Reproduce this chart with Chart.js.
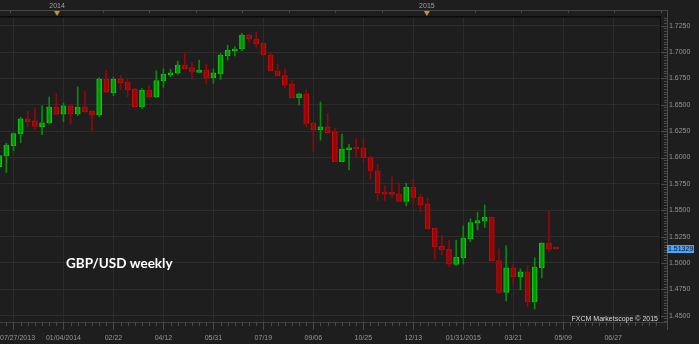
<!DOCTYPE html>
<html>
<head>
<meta charset="utf-8">
<script src="https://cdn.jsdelivr.net/npm/chart.js@4.4.0/dist/chart.umd.min.js"></script>
<style>
html, body { margin: 0; padding: 0; background: #1e1e1e; }
canvas { display: block; }
</style>
</head>
<body>
<canvas id="fx_canvas" width="699" height="344"></canvas>
<script>
// weekly GBP/USD candles, week index counted from the left edge
var weeks = [0,1,2,3,4,5,6,7,8,9,10,11,12,13,14,15,16,17,18,19,20,21,22,23,24,25,26,27,28,29,30,31,32,33,34,35,36,37,38,39,
    40,41,42,43,44,45,46,47,48,49,50,51,52,53,54,55,56,57,58,59,60,61,62,63,64,65,66,67,68,69,70,71,72,73,74,75,76,77,78];
var open_p = [1.5913,1.6015,1.6112,1.6226,1.6366,1.6347,1.6293,1.6328,1.6476,1.6410,1.6489,1.6413,1.6479,1.6441,1.6403,1.6745,1.6615,1.6742,1.6716,1.6647,
    1.6482,1.6638,1.6574,1.6726,1.6783,1.6799,1.6877,1.6852,1.6808,1.6830,1.6757,1.6795,1.6966,1.7010,1.7029,1.7162,1.7124,1.7086,1.6972,1.6823,
    1.6776,1.6697,1.6567,1.6603,1.6325,1.6264,1.6290,1.6245,1.5961,1.6074,1.6091,1.6091,1.5999,1.5873,1.5673,1.5657,1.5654,1.5583,1.5718,1.5623,
    1.5557,1.5329,1.5159,1.5130,1.4986,1.5050,1.5228,1.5377,1.5399,1.5434,1.5022,1.4721,1.4953,1.4868,1.4915,1.4631,1.4955,1.5188,1.5135];
var high_p = [1.6053,1.6135,1.6233,1.6382,1.6441,1.6467,1.6489,1.6574,1.6605,1.6517,1.6498,1.6669,1.6628,1.6445,1.6757,1.6823,1.6761,1.6780,1.6742,1.6656,
    1.6653,1.6685,1.6823,1.6840,1.6837,1.6915,1.6998,1.6903,1.6925,1.6884,1.6842,1.6988,1.7064,1.7051,1.7178,1.7165,1.7190,1.7088,1.6998,1.6887,
    1.6840,1.6735,1.6609,1.6640,1.6330,1.6527,1.6416,1.6277,1.6223,1.6126,1.6179,1.6179,1.6015,1.5939,1.5733,1.5820,1.5756,1.5754,1.5790,1.5657,
    1.5614,1.5332,1.5263,1.5212,1.5218,1.5351,1.5418,1.5481,1.5550,1.5436,1.5133,1.5162,1.4986,1.4944,1.4972,1.5048,1.5190,1.5493,1.5136];
var low_p = [1.5882,1.5858,1.6065,1.6141,1.6293,1.6271,1.6217,1.6318,1.6403,1.6340,1.6318,1.6397,1.6430,1.6255,1.6387,1.6615,1.6586,1.6640,1.6577,1.6478,
    1.6463,1.6562,1.6567,1.6666,1.6767,1.6789,1.6840,1.6742,1.6806,1.6704,1.6704,1.6742,1.6925,1.6963,1.7013,1.7093,1.7045,1.6966,1.6820,1.6773,
    1.6666,1.6565,1.6498,1.6285,1.6056,1.6166,1.6230,1.5958,1.5958,1.5882,1.6002,1.5955,1.5794,1.5593,1.5593,1.5619,1.5580,1.5541,1.5550,1.5487,
    1.5322,1.5038,1.5076,1.4965,1.4975,1.4991,1.5202,1.5313,1.5337,1.5020,1.4709,1.4640,1.4797,1.4744,1.4586,1.4564,1.4858,1.5108,1.5130];
var close_p = [1.6018,1.6119,1.6226,1.6366,1.6340,1.6296,1.6330,1.6479,1.6410,1.6489,1.6413,1.6479,1.6435,1.6403,1.6745,1.6619,1.6742,1.6710,1.6640,1.6482,
    1.6638,1.6574,1.6729,1.6789,1.6804,1.6877,1.6842,1.6811,1.6830,1.6757,1.6802,1.6972,1.7017,1.7029,1.7162,1.7124,1.7079,1.6972,1.6823,1.6776,
    1.6691,1.6567,1.6603,1.6323,1.6264,1.6290,1.6236,1.5961,1.6081,1.6091,1.6081,1.5999,1.5873,1.5667,1.5653,1.5650,1.5583,1.5718,1.5621,1.5553,
    1.5326,1.5155,1.5126,1.4988,1.5054,1.5237,1.5382,1.5401,1.5434,1.5022,1.4721,1.4953,1.4868,1.4915,1.4631,1.4962,1.5188,1.5131,1.51329];

var x_label_weeks = [2,9,16,23,30,37,44,51,58,65,72,79,86];
var x_labels = ['07/27/2013','01/04/2014','02/22','04/12','05/31','07/19','09/06','10/25','12/13','01/31/2015','03/21','05/09','06/27'];
var y_ticks = [1.45,1.475,1.5,1.525,1.55,1.575,1.6,1.625,1.65,1.675,1.7,1.725];
var year_weeks = [8.1, 59.9];
var year_labels = ['2014', '2015'];
var last_price = 1.51329;
var chart_title = 'GBP/USD weekly';
var credit = 'FXCM Marketscope \u00a9 2015';

var small_font = '7px "Liberation Sans", Arial, sans-serif';

function candle_color(i, up, down) {
    return close_p[i] >= open_p[i] ? up : down;
}

var chrome_plugin = {
    id: 'chrome',
    beforeDraw: function (chart) {
        var c = chart.ctx;
        c.save();
        c.fillStyle = '#1e1e1e';
        c.fillRect(0, 0, chart.width, chart.height);
        c.restore();
    },
    afterDraw: function (chart) {
        var c = chart.ctx;
        var xs = chart.scales.x;
        var ys = chart.scales.y;
        var a = chart.chartArea;
        var i, px, py, v;
        c.save();

        // timeline strip on top
        c.fillStyle = '#464646';
        c.fillRect(0, 10, 668, 1);
        for (i = 0; i < 15; i++) {
            px = Math.round(xs.getPixelForValue(1.51 + 6.51 * i));
            c.fillRect(px, 11, 1, 2);
        }
        c.font = small_font;
        c.textAlign = 'center';
        c.textBaseline = 'alphabetic';
        for (i = 0; i < year_weeks.length; i++) {
            px = xs.getPixelForValue(year_weeks[i]);
            c.fillStyle = '#a0a0a0';
            c.fillText(year_labels[i], px, 8);
            c.fillStyle = '#c8961e';
            c.beginPath();
            c.moveTo(px - 3, 11);
            c.lineTo(px + 3, 11);
            c.lineTo(px, 16);
            c.closePath();
            c.fill();
        }

        // plot frame
        c.fillStyle = '#0b0b0b';
        c.fillRect(0, a.top - 1, a.right + 1, 1.5);
        c.fillRect(a.right, a.top - 1, 1, a.bottom - a.top + 1);
        c.fillStyle = '#3e3e3e';
        c.fillRect(0, a.bottom, a.right + 7, 1);

        // right axis line and ticks
        c.fillStyle = '#4a4a4a';
        c.fillRect(667, 10, 1, a.bottom + 8 - 10);
        for (i = 0; i <= 116; i++) {
            v = 1.445 + 0.0025 * i;
            py = Math.round(ys.getPixelForValue(v));
            if (py < a.top || py > a.bottom) continue;
            if (i % 10 === 2) c.fillRect(661, py, 6, 1);
            else c.fillRect(664, py, 3, 1);
        }

        // bottom axis ticks
        for (i = 1; i <= 92; i++) {
            px = Math.round(xs.getPixelForValue(i));
            if (x_label_weeks.indexOf(i) >= 0) c.fillRect(px, a.bottom, 1, 8);
            else c.fillRect(px, a.bottom, 1, 4);
        }

        // bottom labels
        c.fillStyle = '#969696';
        c.font = small_font;
        c.textBaseline = 'alphabetic';
        for (i = 0; i < x_labels.length; i++) {
            px = xs.getPixelForValue(x_label_weeks[i]);
            if (i === 0) {
                c.textAlign = 'left';
                c.fillText(x_labels[i], 0, 340);
            } else {
                c.textAlign = 'center';
                c.fillText(x_labels[i], px, 340);
            }
        }

        // last price tag
        py = ys.getPixelForValue(last_price);
        c.fillStyle = '#4aa3ff';
        c.fillRect(667, Math.round(py) - 4, 27, 8);
        c.fillStyle = '#06121f';
        c.textAlign = 'left';
        c.textBaseline = 'middle';
        c.fillText(last_price.toFixed(5), 668, py + 0.5);

        // title and credit
        c.fillStyle = '#ffffff';
        c.font = 'bold 13.5px Lato, "Open Sans", sans-serif';
        c.textAlign = 'left';
        c.textBaseline = 'alphabetic';
        c.fillText(chart_title, 66, 268);

        c.fillStyle = '#dcdcdc';
        c.font = '7px "Liberation Sans", Arial, sans-serif';
        c.textAlign = 'right';
        c.fillText(credit, 658, 321);

        c.restore();
    }
};

function draw_fx_chart() {
    var ctx = document.getElementById('fx_canvas');
    var wick_data = [];
    var body_data = [];
    var wick_colors = [];
    var body_colors = [];
    var body_borders = [];
    for (var i = 0; i < weeks.length; i++) {
        wick_data.push({ x: weeks[i], y: [low_p[i], high_p[i]] });
        body_data.push({ x: weeks[i], y: [open_p[i], close_p[i]] });
        wick_colors.push(candle_color(i, '#078c07', '#8e0a0a'));
        body_colors.push(candle_color(i, '#00a800', '#a80000'));
        body_borders.push(candle_color(i, '#10cc10', '#c40e0e'));
    }

    new Chart(ctx, {
        type: 'bar',
        data: {
            datasets: [{
                label: 'wick',
                data: wick_data,
                backgroundColor: wick_colors,
                borderWidth: 0,
                grouped: false,
                categoryPercentage: 1,
                barPercentage: 1,
                maxBarThickness: 1
            }, {
                label: 'body',
                data: body_data,
                backgroundColor: body_colors,
                borderColor: body_borders,
                borderWidth: 1,
                borderSkipped: false,
                grouped: false,
                categoryPercentage: 1,
                barPercentage: 1,
                maxBarThickness: 5,
                minBarLength: 2
            }]
        },
        options: {
            responsive: false,
            devicePixelRatio: 1,
            animation: false,
            layout: { padding: { top: 17, left: 0, right: 0, bottom: 0 } },
            plugins: {
                legend: { display: false },
                tooltip: { enabled: false }
            },
            scales: {
                x: {
                    type: 'linear',
                    position: 'bottom',
                    offset: false,
                    min: 0.112,
                    max: 92.55,
                    afterBuildTicks: function (s) {
                        s.ticks = x_label_weeks.map(function (w) { return { value: w }; });
                    },
                    afterFit: function (s) { s.height = 22; },
                    ticks: { display: false },
                    grid: { color: '#2c2c2c', drawTicks: false, offset: false },
                    border: { display: false }
                },
                y: {
                    position: 'right',
                    min: 1.44403,
                    max: 1.73325,
                    afterBuildTicks: function (s) {
                        s.ticks = y_ticks.map(function (v) { return { value: v }; });
                    },
                    afterFit: function (s) { s.width = 39; },
                    ticks: {
                        padding: 9,
                        color: '#969696',
                        font: { family: '"Liberation Sans", Arial, sans-serif', size: 7 },
                        callback: function (v) { return Number(v).toFixed(4); }
                    },
                    grid: { color: '#2c2c2c', drawTicks: false },
                    border: { display: false }
                }
            }
        },
        plugins: [chrome_plugin]
    });
}

draw_fx_chart();
</script>
</body>
</html>
